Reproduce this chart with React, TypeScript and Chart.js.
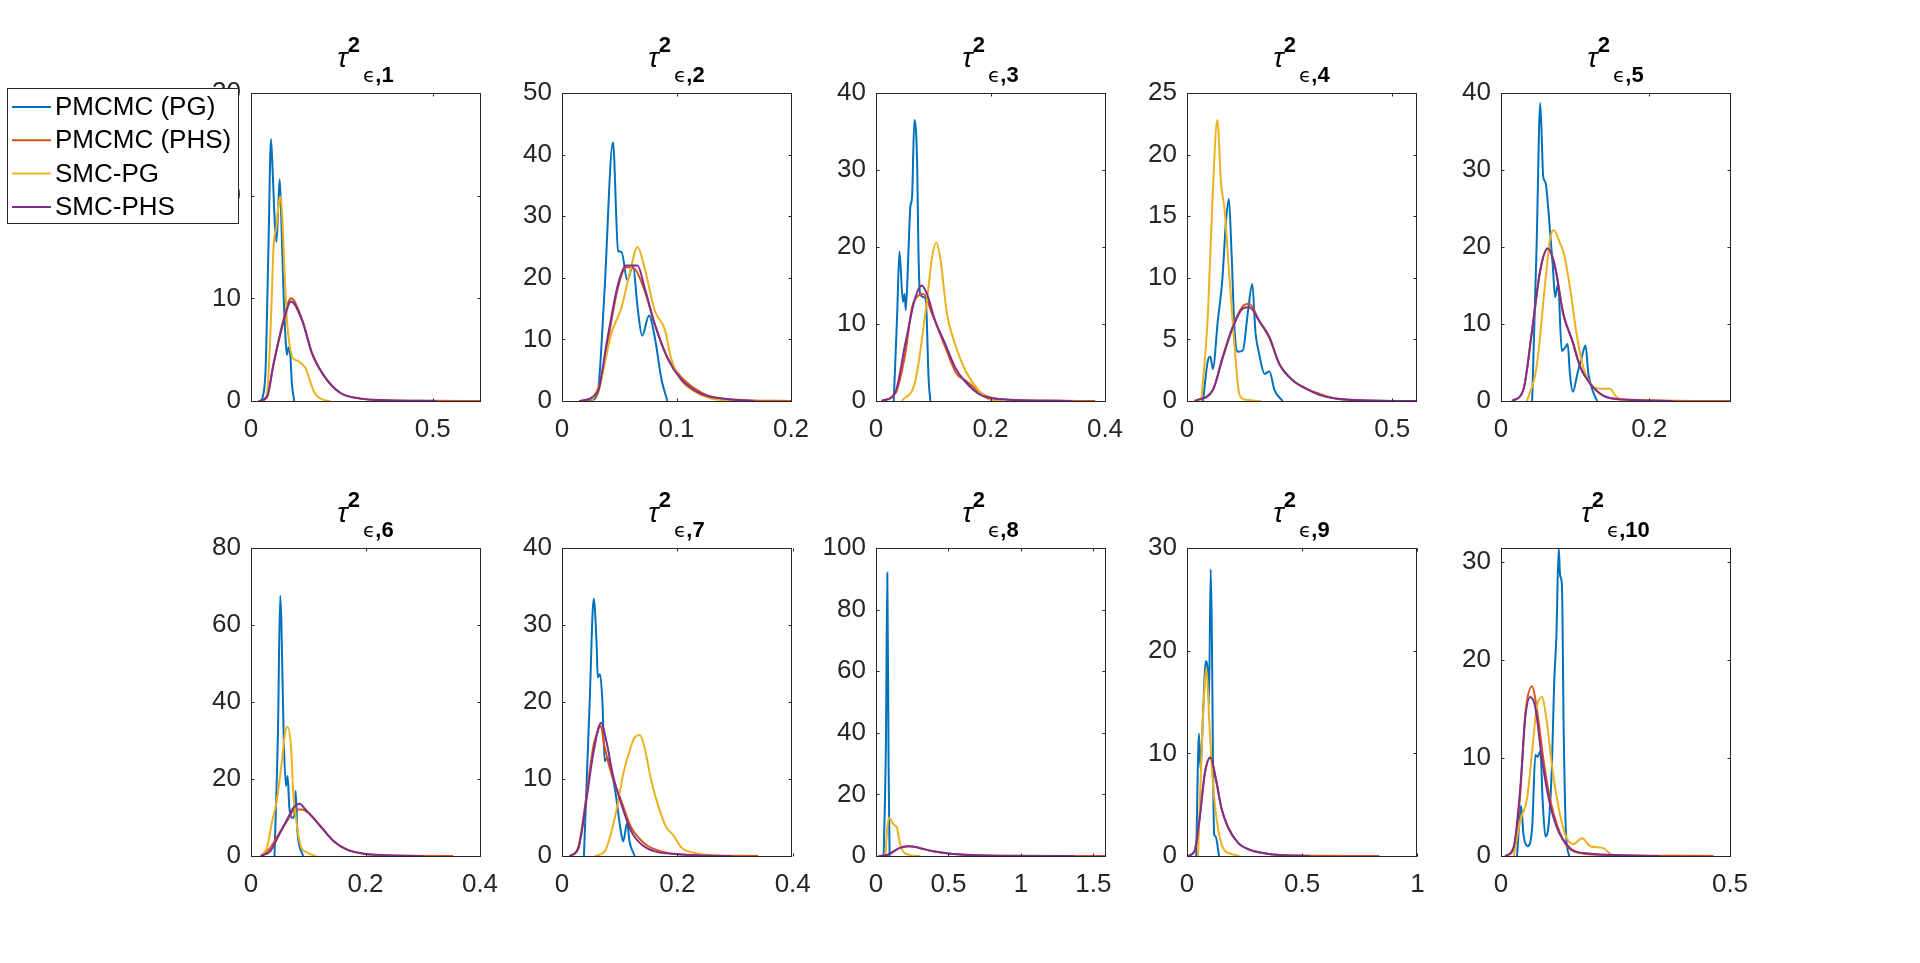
import { useEffect, useRef } from "react"
import { Chart, registerables } from "chart.js"

Chart.register(...registerables)

type Pt = [number, number]

const seriesNames = ["PMCMC (PG)", "PMCMC (PHS)", "SMC-PG", "SMC-PHS"]
const seriesColors = ["#0072BD", "#D95319", "#EDB120", "#7E2F8E"]

// panel 1
const pg1: Pt[] = [[0.030,0],[0.040,3],[0.048,15],[0.055,25.5],[0.060,22],[0.066,17],[0.070,15.5],[0.075,19],[0.079,21.6],[0.084,17],[0.090,10],[0.096,5.5],[0.099,4.5],[0.103,5.2],[0.108,4.5],[0.113,1.5],[0.119,0]]
const phs1: Pt[] = [[0.021,0],[0.044,0.4],[0.062,3.6],[0.090,8],[0.110,10],[0.140,8],[0.168,4.7],[0.200,2.5],[0.245,0.8],[0.300,0.25],[0.374,0.08],[0.5,0.02],[0.63,0]]
const smcpg1: Pt[] = [[0.035,0],[0.045,1],[0.055,8],[0.062,15],[0.070,17],[0.077,19.5],[0.081,19.9],[0.086,18],[0.093,12],[0.099,7.9],[0.106,5.5],[0.117,4.1],[0.130,3.9],[0.140,3.6],[0.150,3.2],[0.160,2.2],[0.172,1.0],[0.181,0.5],[0.200,0.1],[0.218,0]]
const smcphs1: Pt[] = [[0.021,0],[0.044,0.4],[0.062,3.6],[0.090,7.8],[0.110,9.7],[0.140,7.9],[0.168,4.6],[0.200,2.5],[0.245,0.8],[0.300,0.23],[0.374,0.07],[0.51,0]]

// panel 2
const pg2: Pt[] = [[0.024,0],[0.031,1.2],[0.037,17.4],[0.0445,42],[0.049,24.4],[0.052,24.2],[0.057,19.6],[0.062,22],[0.066,15.2],[0.070,10.6],[0.076,13.9],[0.081,10.4],[0.087,3.4],[0.092,0]]
const phs2: Pt[] = [[0.017,0],[0.031,1.2],[0.040,9.8],[0.049,18.5],[0.056,21.7],[0.063,21.5],[0.072,18],[0.081,12.5],[0.092,7.1],[0.104,3.9],[0.116,2],[0.127,0.9],[0.139,0.4],[0.168,0.1],[0.2,0]]
const smcpg2: Pt[] = [[0.026,0],[0.034,3.4],[0.043,10.9],[0.052,15.2],[0.059,20.6],[0.066,25],[0.072,21.7],[0.081,14.7],[0.090,11.5],[0.095,7.1],[0.104,3.4],[0.116,1.5],[0.130,0.4],[0.150,0]]
const smcphs2: Pt[] = [[0.015,0],[0.031,1.5],[0.040,10.5],[0.049,19],[0.056,22],[0.066,22],[0.072,18.5],[0.081,12.5],[0.092,7],[0.104,3.5],[0.116,1.7],[0.127,0.8],[0.145,0.3],[0.168,0]]

// panel 3
const pg3: Pt[] = [[0.031,0],[0.037,11.3],[0.041,19.4],[0.047,12.9],[0.050,13.9],[0.052,11.8],[0.057,20],[0.060,25.2],[0.063,26.5],[0.067,36.5],[0.072,30.4],[0.074,20],[0.077,13.9],[0.083,13.5],[0.087,13.1],[0.092,2.7],[0.095,0]]
const phs3: Pt[] = [[0.010,0],[0.034,1],[0.051,6.1],[0.063,12.2],[0.069,13.3],[0.083,13.9],[0.098,11.3],[0.121,7],[0.141,3.5],[0.156,2.7],[0.191,0.7],[0.226,0.2],[0.3,0.05],[0.383,0]]
const smcpg3: Pt[] = [[0.045,0],[0.069,2.7],[0.089,13.1],[0.098,18.7],[0.105,20.6],[0.112,18.7],[0.124,11.3],[0.138,7.4],[0.156,4],[0.179,1.4],[0.202,0.1],[0.22,0]]
const smcphs3: Pt[] = [[0.010,0],[0.034,1.2],[0.051,7.4],[0.069,13.5],[0.080,15],[0.089,13.9],[0.103,10.5],[0.121,7.4],[0.138,4.4],[0.156,2.5],[0.185,0.7],[0.226,0.2],[0.342,0]]

// panel 4
const pg4: Pt[] = [[0.039,0],[0.051,3.3],[0.057,3.6],[0.063,2.6],[0.075,6.5],[0.086,9.8],[0.095,14.6],[0.102,16.4],[0.108,12.5],[0.116,5.7],[0.124,4],[0.136,4.1],[0.148,7.1],[0.159,9.5],[0.167,5.5],[0.176,3.8],[0.189,2.2],[0.201,2.4],[0.213,0.9],[0.233,0]]
const phs4: Pt[] = [[0.019,0],[0.063,0.9],[0.087,3.6],[0.112,6.1],[0.136,7.7],[0.152,7.9],[0.176,6.5],[0.201,5.2],[0.225,3],[0.257,1.7],[0.290,1],[0.322,0.6],[0.362,0.2],[0.427,0.05],[0.558,0]]
const smcpg4: Pt[] = [[0.035,0],[0.051,7.1],[0.063,17.1],[0.074,22.8],[0.083,17.6],[0.091,15.7],[0.104,9.8],[0.116,4.4],[0.128,0.5],[0.144,0.1],[0.18,0]]
const smcphs4: Pt[] = [[0.019,0],[0.063,0.9],[0.087,3.5],[0.112,6],[0.136,7.5],[0.152,7.6],[0.176,6.5],[0.201,5.1],[0.225,3],[0.257,1.7],[0.290,1],[0.322,0.5],[0.362,0.2],[0.48,0.02],[0.558,0]]

// panel 5
const pg5: Pt[] = [[0.042,0],[0.048,20],[0.053,38.7],[0.057,29.1],[0.060,28.4],[0.065,23.5],[0.070,17.4],[0.073,13.5],[0.077,15.2],[0.082,6.5],[0.087,7],[0.090,7.4],[0.093,3.5],[0.097,1.2],[0.103,3.5],[0.109,5.7],[0.114,7.2],[0.118,3.5],[0.125,1],[0.130,0]]
const phs5: Pt[] = [[0.015,0],[0.030,1.4],[0.042,9.2],[0.053,17],[0.063,19.8],[0.073,17.4],[0.084,11.3],[0.096,7.9],[0.107,4.4],[0.120,2.3],[0.138,0.7],[0.165,0.2],[0.309,0]]
const smcpg5: Pt[] = [[0.035,0],[0.048,4.4],[0.060,15.7],[0.066,20.9],[0.071,22.2],[0.080,20.4],[0.085,19.1],[0.093,14.8],[0.102,8.7],[0.111,4.4],[0.125,1.8],[0.134,1.6],[0.147,1.6],[0.156,0.5],[0.174,0.1],[0.19,0]]
const smcphs5: Pt[] = [[0.015,0],[0.030,1.4],[0.042,9.2],[0.053,17],[0.063,19.8],[0.073,17.4],[0.084,11.3],[0.096,7.9],[0.107,4.4],[0.120,2.3],[0.138,0.7],[0.165,0.2],[0.232,0]]

// panel 6
const pg6: Pt[] = [[0.041,0],[0.047,31.6],[0.051,67.6],[0.053,61],[0.057,31.6],[0.061,18.2],[0.064,20.8],[0.067,12.5],[0.073,9.9],[0.076,10.8],[0.078,16.9],[0.081,6.5],[0.091,0]]
const phs6: Pt[] = [[0.017,0],[0.034,2.2],[0.048,5.6],[0.063,9.1],[0.077,12.1],[0.089,12.1],[0.103,10.8],[0.121,7.8],[0.144,3.9],[0.167,1.7],[0.197,0.6],[0.243,0.1],[0.353,0]]
const smcpg6: Pt[] = [[0.017,0],[0.028,2.2],[0.037,9.1],[0.045,14.3],[0.054,24.7],[0.060,32.4],[0.064,33.5],[0.070,28.1],[0.074,16],[0.080,8.2],[0.086,3],[0.098,0.9],[0.114,0]]
const smcphs6: Pt[] = [[0.017,0],[0.034,1.3],[0.048,5.2],[0.063,9.5],[0.074,12.5],[0.085,13.6],[0.095,12.1],[0.106,10.4],[0.121,7.8],[0.144,3.9],[0.167,1.7],[0.197,0.6],[0.301,0]]

// panel 7
const pg7: Pt[] = [[0.038,0],[0.048,20.1],[0.055,33.4],[0.060,27.5],[0.062,23.2],[0.066,23.6],[0.070,20.1],[0.074,12.3],[0.078,12.8],[0.087,10.6],[0.094,7.6],[0.101,3.7],[0.106,1.9],[0.113,4.3],[0.117,1.9],[0.126,0]]
const phs7: Pt[] = [[0.013,0],[0.028,1.1],[0.042,7.6],[0.054,14.1],[0.060,15.8],[0.067,16.9],[0.074,14.1],[0.086,10.6],[0.103,7.1],[0.120,3.7],[0.135,2.2],[0.149,1.3],[0.172,0.6],[0.207,0.2],[0.340,0]]
const smcpg7: Pt[] = [[0.057,0],[0.074,0.6],[0.094,5.8],[0.106,10.6],[0.117,13.6],[0.126,15.4],[0.135,15.7],[0.143,14.1],[0.155,9.7],[0.166,6.7],[0.181,3.7],[0.192,2.8],[0.207,1.1],[0.230,0.4],[0.259,0.1],[0.28,0]]
const smcphs7: Pt[] = [[0.013,0],[0.028,0.9],[0.042,7.1],[0.054,13.2],[0.068,17.3],[0.077,14.9],[0.088,10.6],[0.103,6.7],[0.120,3.2],[0.138,1.5],[0.161,0.6],[0.207,0.2],[0.294,0]]

// panel 8
const pg8: Pt[] = [[0.053,0],[0.069,39],[0.078,92],[0.087,28.6],[0.094,0]]
const phs8: Pt[] = [[0.018,0],[0.087,0.5],[0.156,2.5],[0.225,3.2],[0.294,2.7],[0.385,1.6],[0.5,0.8],[0.66,0.3],[0.84,0.1],[1.58,0]]
const smcpg8: Pt[] = [[0.064,0],[0.087,12.4],[0.099,11.9],[0.122,10.2],[0.144,9.2],[0.167,3.8],[0.202,0.8],[0.305,0]]
const smcphs8: Pt[] = [[0.018,0],[0.087,0.5],[0.156,2.5],[0.225,3.2],[0.294,2.7],[0.385,1.6],[0.5,0.8],[0.66,0.3],[0.84,0.1],[1.37,0]]

// panel 9
const pg9: Pt[] = [[0.040,0],[0.052,11.9],[0.058,8.6],[0.072,15.1],[0.081,19],[0.091,17.7],[0.095,14.8],[0.103,27.9],[0.108,21.6],[0.113,8.6],[0.118,2.1],[0.124,1.9],[0.139,0]]
const phs9: Pt[] = [[0.004,0],[0.033,0.5],[0.055,3.7],[0.077,8],[0.101,9.6],[0.127,7.3],[0.149,4.7],[0.178,2.8],[0.221,1.3],[0.272,0.6],[0.329,0.3],[0.402,0.1],[0.835,0]]
const smcpg9: Pt[] = [[0.048,0],[0.066,11.9],[0.077,16.7],[0.084,18.3],[0.098,12.5],[0.113,7],[0.134,2.8],[0.156,0.8],[0.192,0.2],[0.228,0]]
const smcphs9: Pt[] = [[0.004,0],[0.033,0.5],[0.055,3.7],[0.077,8],[0.101,9.6],[0.127,7.3],[0.149,4.7],[0.178,2.8],[0.221,1.3],[0.272,0.6],[0.329,0.3],[0.402,0.1],[0.532,0]]

// panel 10
const pg10: Pt[] = [[0.035,0],[0.044,5.1],[0.049,2.2],[0.058,1],[0.068,2.9],[0.075,10.3],[0.080,10.1],[0.086,10.7],[0.091,5.6],[0.097,2],[0.104,3.2],[0.111,9],[0.116,17.5],[0.121,22.5],[0.126,31.4],[0.129,28.6],[0.133,27.6],[0.137,12.4],[0.142,2.2],[0.149,0]]
const phs10: Pt[] = [[0.012,0],[0.028,0.8],[0.042,6.3],[0.053,14.4],[0.068,17.3],[0.078,15.1],[0.093,9.7],[0.108,5.6],[0.122,3.2],[0.144,1],[0.173,0.3],[0.231,0.1],[0.464,0]]
const smcpg10: Pt[] = [[0.028,0],[0.042,3.6],[0.057,5.9],[0.068,10.7],[0.078,15.1],[0.089,16.2],[0.100,13.7],[0.111,9.3],[0.126,4.9],[0.140,2.2],[0.158,1.2],[0.177,1.8],[0.195,1],[0.224,0.8],[0.242,0.1],[0.26,0]]
const smcphs10: Pt[] = [[0.009,0],[0.028,1],[0.042,6.9],[0.053,14.1],[0.064,16.2],[0.075,15.1],[0.089,10],[0.104,5.9],[0.122,2.9],[0.151,0.8],[0.180,0.3],[0.347,0]]

const panelSeries: Pt[][][] = [
  [pg1, phs1, smcpg1, smcphs1],
  [pg2, phs2, smcpg2, smcphs2],
  [pg3, phs3, smcpg3, smcphs3],
  [pg4, phs4, smcpg4, smcphs4],
  [pg5, phs5, smcpg5, smcphs5],
  [pg6, phs6, smcpg6, smcphs6],
  [pg7, phs7, smcpg7, smcphs7],
  [pg8, phs8, smcpg8, smcphs8],
  [pg9, phs9, smcpg9, smcphs9],
  [pg10, phs10, smcpg10, smcphs10],
]

const xMaxes = [0.63, 0.2, 0.4, 0.558, 0.309, 0.4, 0.397, 1.58, 0.994, 0.5]
const yMaxes = [30, 50, 40, 25, 40, 80, 40, 100, 30, 31.4]
const xTickLists = [
  [0, 0.5], [0, 0.1, 0.2], [0, 0.2, 0.4], [0, 0.5], [0, 0.2],
  [0, 0.2, 0.4], [0, 0.2, 0.4], [0, 0.5, 1, 1.5], [0, 0.5, 1], [0, 0.5],
]
const yTickLists = [
  [0, 10, 20, 30], [0, 10, 20, 30, 40, 50], [0, 10, 20, 30, 40], [0, 5, 10, 15, 20, 25], [0, 10, 20, 30, 40],
  [0, 20, 40, 60, 80], [0, 10, 20, 30, 40], [0, 20, 40, 60, 80, 100], [0, 10, 20, 30], [0, 10, 20, 30],
]

const colLefts = [251, 562, 876, 1187, 1501]
const rowTops = [93, 548]
const PW = 229
const PH = 308
const TITLE_PAD = 90
const XAXIS_H = 50
const RIGHT_PAD = 40
const YAXIS_W = 100

const axisColor = "#262626"
const fontFamily = '"Liberation Sans", Arial, sans-serif'

function Panel({ index }: { index: number }) {
  const canvasRef = useRef<HTMLCanvasElement>(null)
  const chartRef = useRef<Chart | null>(null)

  const col = index % 5
  const row = Math.floor(index / 5)
  const plotLeft = colLefts[col]
  const plotTop = rowTops[row]
  // the first panel's canvas reaches the page edge so it can hold the legend
  const yAxisW = index === 0 ? plotLeft : YAXIS_W
  const canvasLeft = plotLeft - yAxisW
  const canvasTop = plotTop - TITLE_PAD
  const width = yAxisW + PW + RIGHT_PAD
  const height = TITLE_PAD + PH + XAXIS_H

  useEffect(() => {
    if (!canvasRef.current) return
    if (chartRef.current) chartRef.current.destroy()

    const xTicks = xTickLists[index]
    const yTicks = yTickLists[index]

    const matlabAxes = {
      id: "matlabAxes",
      afterDraw(chart: Chart) {
        const { ctx, chartArea: a, scales } = chart
        ctx.save()
        ctx.strokeStyle = axisColor
        ctx.lineWidth = 1
        const l = Math.round(a.left) + 0.5
        const t = Math.round(a.top) + 0.5
        const r = Math.round(a.right) + 0.5
        const b = Math.round(a.bottom) + 0.5
        ctx.strokeRect(l, t, r - l, b - t)
        ctx.beginPath()
        xTicks.forEach((v) => {
          const px = Math.round(scales.x.getPixelForValue(v)) + 0.5
          ctx.moveTo(px, b)
          ctx.lineTo(px, b - 3)
          ctx.moveTo(px, t)
          ctx.lineTo(px, t + 3)
        })
        yTicks.forEach((v) => {
          const py = Math.round(scales.y.getPixelForValue(v)) + 0.5
          ctx.moveTo(l, py)
          ctx.lineTo(l + 3, py)
          ctx.moveTo(r, py)
          ctx.lineTo(r - 3, py)
        })
        ctx.stroke()

        // title: tau ^2 _{eps,i}
        const cx = (a.left + a.right) / 2
        const tail = "," + (index + 1)
        ctx.font = `italic 28px ${fontFamily}`
        const wTau = ctx.measureText("τ").width
        ctx.font = `bold 22px ${fontFamily}`
        const wSup = ctx.measureText("2").width
        const wTail = ctx.measureText(tail).width
        ctx.font = '20px "DejaVu Sans", sans-serif'
        const wEps = ctx.measureText("ϵ").width
        const total = wTau + wSup + 3 + wEps + wTail
        let x = cx - total / 2
        ctx.fillStyle = "#000"
        ctx.textAlign = "left"
        ctx.textBaseline = "alphabetic"
        ctx.font = `italic 28px ${fontFamily}`
        ctx.fillText("τ", x, a.top - 26)
        x += wTau
        ctx.font = `bold 22px ${fontFamily}`
        ctx.fillText("2", x, a.top - 41)
        x += wSup + 3
        ctx.font = '20px "DejaVu Sans", sans-serif'
        ctx.fillText("ϵ", x, a.top - 11)
        x += wEps
        ctx.font = `bold 22px ${fontFamily}`
        ctx.fillText(tail, x, a.top - 11)

        if (index === 0) {
          const bx = 7 - canvasLeft
          const by = 88 - canvasTop
          ctx.fillStyle = "#fff"
          ctx.fillRect(bx, by, 231, 135)
          ctx.strokeStyle = axisColor
          ctx.strokeRect(bx + 0.5, by + 0.5, 231, 135)
          ctx.font = `26px ${fontFamily}`
          ctx.textBaseline = "middle"
          seriesNames.forEach((name, i) => {
            const y = by + 19 + i * 33.3
            ctx.strokeStyle = seriesColors[i]
            ctx.lineWidth = 2
            ctx.beginPath()
            ctx.moveTo(bx + 5, y)
            ctx.lineTo(bx + 44, y)
            ctx.stroke()
            ctx.fillStyle = "#000"
            ctx.fillText(name, bx + 48, y + 1)
          })
        }
        ctx.restore()
      },
    }

    chartRef.current = new Chart(canvasRef.current, {
      type: "line",
      data: {
        datasets: panelSeries[index].map((pts, i) => ({
          label: seriesNames[i],
          data: pts.map(([x, y]) => ({ x, y })),
          borderColor: seriesColors[i],
          backgroundColor: seriesColors[i],
          borderWidth: 2,
          pointRadius: 0,
          fill: false,
          cubicInterpolationMode: "monotone" as const,
          order: 3 - i,
        })),
      },
      options: {
        responsive: false,
        animation: false,
        layout: { padding: { top: TITLE_PAD, right: RIGHT_PAD, left: 0, bottom: 0 } },
        plugins: {
          legend: { display: false },
          tooltip: { enabled: false },
          title: { display: false },
        },
        scales: {
          x: {
            type: "linear",
            min: 0,
            max: xMaxes[index],
            grid: { display: false, drawTicks: false },
            border: { display: false },
            afterBuildTicks: (scale: any) => {
              scale.ticks = xTicks.map((v) => ({ value: v }))
            },
            afterFit: (scale: any) => {
              scale.height = XAXIS_H
            },
            ticks: {
              autoSkip: false,
              maxRotation: 0,
              padding: 13,
              color: axisColor,
              font: { family: fontFamily, size: 26 },
              callback: (v: any) => String(v),
            },
          },
          y: {
            type: "linear",
            min: 0,
            max: yMaxes[index],
            grid: { display: false, drawTicks: false },
            border: { display: false },
            afterBuildTicks: (scale: any) => {
              scale.ticks = yTicks.map((v) => ({ value: v }))
            },
            afterFit: (scale: any) => {
              scale.width = yAxisW
            },
            ticks: {
              autoSkip: false,
              padding: 10,
              color: axisColor,
              font: { family: fontFamily, size: 26 },
              callback: (v: any) => String(v),
            },
          },
        },
      },
      plugins: [matlabAxes],
    } as any)

    return () => {
      if (chartRef.current) {
        chartRef.current.destroy()
        chartRef.current = null
      }
    }
  }, [index, yAxisW, canvasLeft, canvasTop])

  return (
    <canvas
      ref={canvasRef}
      width={width}
      height={height}
      style={{ position: "absolute", left: canvasLeft, top: canvasTop, width, height }}
    />
  )
}

export default function App() {
  return (
    <div style={{ position: "absolute", left: 0, top: 0, width: 1920, height: 963, background: "#fff", overflow: "hidden" }}>
      {panelSeries.map((_, i) => (
        <Panel key={i} index={i} />
      ))}
    </div>
  )
}
